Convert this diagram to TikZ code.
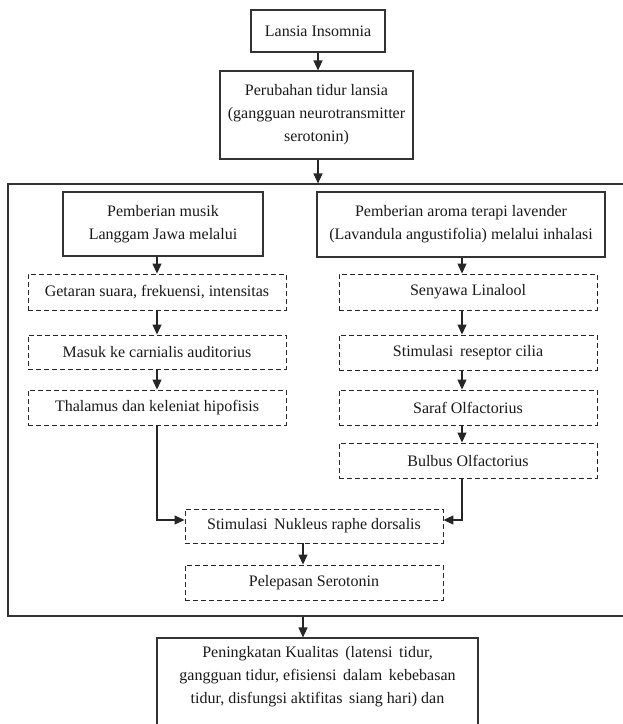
\documentclass[tikz,border=0pt]{standalone}
\usepackage{fontspec}
\setmainfont{Liberation Serif}
\usetikzlibrary{arrows.meta}
\begin{document}
\begin{tikzpicture}[x=1pt,y=-1pt,
  every node/.style={align=center,inner sep=0pt,font=\fontsize{16}{23}\selectfont,text=black!90},
  solidbox/.style={draw=black!80,line width=1.1pt},
  dashbox/.style={draw=black!85,line width=0.9pt,dash pattern=on 5pt off 3pt},
  conn/.style={draw=black!85,line width=1.1pt,-{Triangle[width=9pt,length=10pt]}},
  plain/.style={draw=black!85,line width=1.1pt}]
\useasboundingbox (0,0) rectangle (623,724);
\clip (0,0) rectangle (623,724);
% top boxes
\node[solidbox,minimum width=134pt,minimum height=42pt] (n1) at (318,31) {Lansia Insomnia};
\node[solidbox,minimum width=193pt,minimum height=88pt] (n2) at (316.5,115) {Perubahan tidur lansia\\(gangguan neurotransmitter\\serotonin)};
% outer frame
\node[solidbox,minimum width=632pt,minimum height=432pt] (frame) at (324,400) {};
% left column
\node[solidbox,minimum width=200pt,minimum height=64pt] (L0) at (163,224) {Pemberian musik\\Langgam Jawa melalui};
\node[dashbox,minimum width=258pt,minimum height=36pt] (L1) at (157,292) {Getaran suara, frekuensi, intensitas};
\node[dashbox,minimum width=258pt,minimum height=34pt] (L2) at (157,352) {Masuk ke carnialis auditorius};
\node[dashbox,minimum width=258pt,minimum height=35pt] (L3) at (157,407.5) {Thalamus dan keleniat hipofisis};
% right column
\node[solidbox,minimum width=288pt,minimum height=65pt] (R0) at (461,224.5) {Pemberian aroma terapi lavender\\(Lavandula angustifolia) melalui inhalasi};
\node[dashbox,minimum width=258pt,minimum height=36pt] (R1) at (468,292) {Senyawa Linalool};
\node[dashbox,minimum width=258pt,minimum height=35pt] (R2) at (468,352.5) {Stimulasi\, reseptor cilia};
\node[dashbox,minimum width=258pt,minimum height=35pt] (R3) at (468,407.5) {Saraf Olfactorius};
\node[dashbox,minimum width=258pt,minimum height=35pt] (R4) at (468,460.5) {Bulbus Olfactorius};
% merged
\node[dashbox,minimum width=258pt,minimum height=34pt] (M1) at (314,526) {Stimulasi\, Nukleus raphe dorsalis};
\node[dashbox,minimum width=258pt,minimum height=35pt] (M2) at (314,582.5) {Pelepasan Serotonin};
% bottom box (cut off by the page edge)
\node[solidbox,minimum width=321pt,minimum height=124pt] (B) at (317.5,700) {};
\node[anchor=north] (Bt) at (317.5,646) {Peningkatan Kualitas\, (latensi\, tidur,\\gangguan tidur, efisiensi\, dalam\, kebebasan\\tidur, disfungsi aktifitas\, siang hari) dan};
% coordinates for columns of arrows
\coordinate (cx) at (318,0);
\coordinate (lx) at (157,0);
\coordinate (rx) at (462,0);
\coordinate (mx) at (303,0);
% connectors
\draw[conn] (n1.south -| cx) -- (n2.north -| cx);
\draw[conn] (n2.south -| cx) -- (frame.north -| cx);
\draw[conn] (L0.south -| lx) -- (L1.north -| lx);
\draw[conn] (L1.south -| lx) -- (L2.north -| lx);
\draw[conn] (L2.south -| lx) -- (L3.north -| lx);
\draw[conn] (R0.south -| rx) -- (R1.north -| rx);
\draw[conn] (R1.south -| rx) -- (R2.north -| rx);
\draw[conn] (R2.south -| rx) -- (R3.north -| rx);
\draw[conn] (R3.south -| rx) -- (R4.north -| rx);
\draw[conn] (L3.south -| lx) |- ([yshift=6pt]M1.west);
\draw[conn] (R4.south -| rx) |- ([yshift=6pt]M1.east);
\draw[conn] (M1.south -| mx) -- (M2.north -| mx);
\draw[conn] (frame.south -| mx) -- (B.north -| mx);
\end{tikzpicture}
\end{document}
